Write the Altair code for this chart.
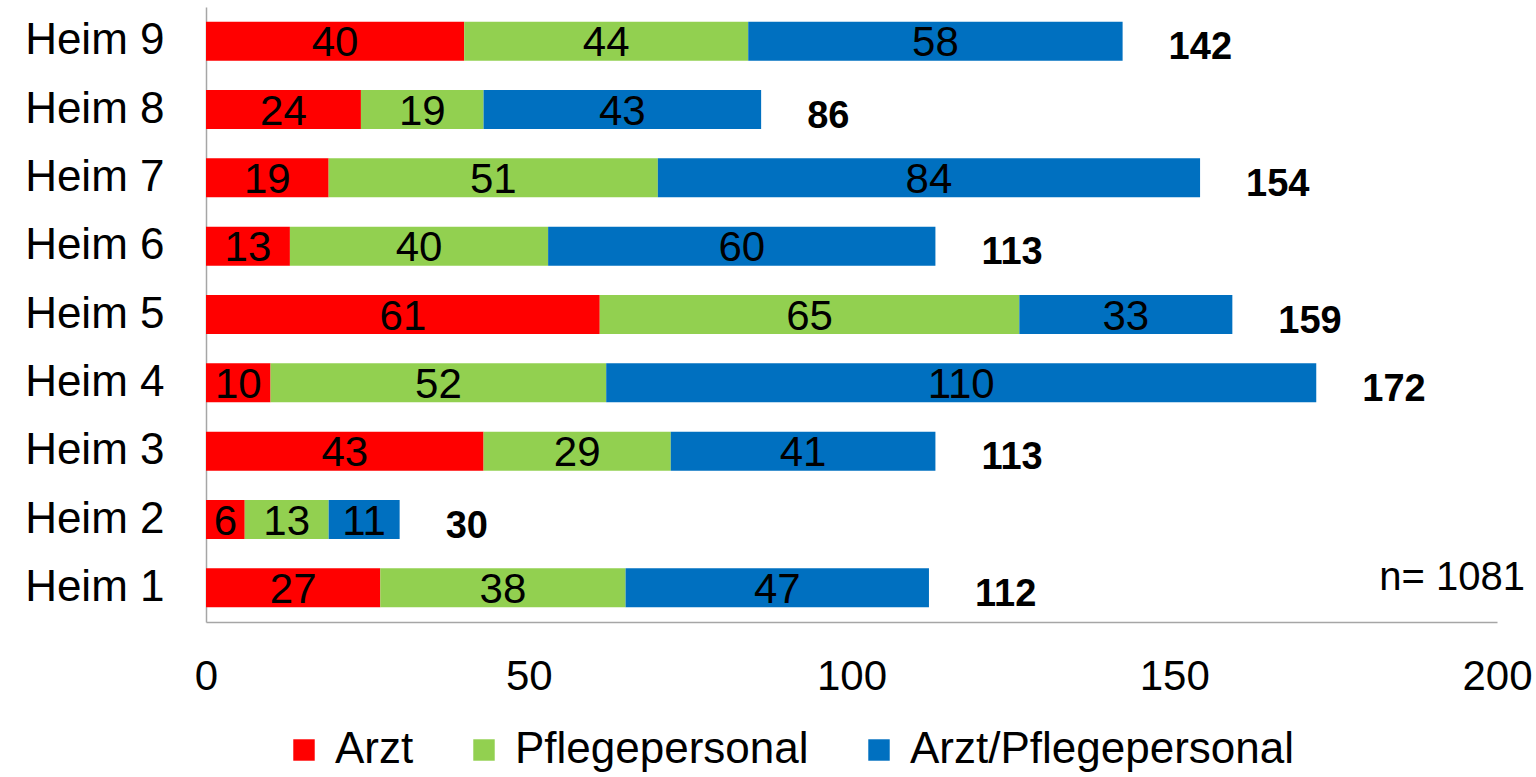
import altair as alt
import pandas as pd

# Categories (top to bottom) and counts per group
heime = ["Heim 9", "Heim 8", "Heim 7", "Heim 6", "Heim 5", "Heim 4", "Heim 3", "Heim 2", "Heim 1"]
arzt = [40, 24, 19, 13, 61, 10, 43, 6, 27]
pflege = [44, 19, 51, 40, 65, 52, 29, 13, 38]
beide = [58, 43, 84, 60, 33, 110, 41, 11, 47]

gruppen = ["Arzt", "Pflegepersonal", "Arzt/Pflegepersonal"]
farben = ["#FF0000", "#92D050", "#0070C0"]
x_ticks = [0, 50, 100, 150, 200]
n_text = "n= 1081"

rows = []
for i, h in enumerate(heime):
    for k, (g, vals) in enumerate(zip(gruppen, [arzt, pflege, beide])):
        rows.append({"heim": h, "gruppe": g, "wert": vals[i], "ordnung": k})
df = pd.DataFrame(rows)

totals = pd.DataFrame({
    "heim": heime,
    "summe": [a + p + b for a, p, b in zip(arzt, pflege, beide)],
})

FONT = "Liberation Sans"

y_enc = alt.Y(
    "heim:N",
    sort=heime,
    title=None,
    scale=alt.Scale(paddingInner=0.43, paddingOuter=0.215),
    axis=alt.Axis(
        labelFont=FONT, labelFontSize=44, labelColor="black",
        ticks=False, domainColor="#A6A6A6", domainWidth=1.5,
        labelPadding=42,
    ),
)

x_scale = alt.Scale(domain=[0, 200], nice=False)

bars = alt.Chart(df).mark_bar().encode(
    y=y_enc,
    x=alt.X(
        "wert:Q",
        stack="zero",
        scale=x_scale,
        title=None,
        axis=alt.Axis(
            values=x_ticks, grid=False, ticks=False,
            labelFont=FONT, labelFontSize=42, labelColor="black",
            domainColor="#A6A6A6", domainWidth=1.5, labelPadding=34,
            labelFlush=False,
        ),
    ),
    color=alt.Color(
        "gruppe:N",
        scale=alt.Scale(domain=gruppen, range=farben),
        sort=gruppen,
        legend=alt.Legend(
            title=None, orient="none", direction="horizontal",
            legendX=76, legendY=721,
            symbolType="square", symbolSize=460, symbolStrokeWidth=0,
            labelFont=FONT, labelFontSize=44, labelColor="black",
            labelOffset=9, columnPadding=48, labelLimit=600,
        ),
    ),
    order=alt.Order("ordnung:Q"),
)

seg_labels = alt.Chart(df).mark_text(
    font=FONT, fontSize=42, color="black", baseline="middle", dy=2,
).transform_stack(
    stack="wert", groupby=["heim"], as_=["x0", "x1"],
    sort=[alt.SortField("ordnung", order="ascending")],
).transform_calculate(
    mitte="(datum.x0 + datum.x1) / 2"
).encode(
    y=alt.Y("heim:N", sort=heime),
    x=alt.X("mitte:Q", scale=x_scale),
    text="wert:Q",
)

total_labels = alt.Chart(totals).mark_text(
    font=FONT, fontSize=38, fontWeight="bold", color="black",
    align="left", baseline="middle", dx=46, dy=7,
).encode(
    y=alt.Y("heim:N", sort=heime),
    x=alt.X("summe:Q", scale=x_scale),
    text="summe:Q",
)

n_label = alt.Chart(pd.DataFrame({"t": [n_text]})).mark_text(
    font=FONT, fontSize=40, color="black", align="right", baseline="middle",
).encode(
    x=alt.value(1319),
    y=alt.value(571),
    text="t:N",
)

chart = alt.layer(bars, seg_labels, total_labels, n_label).properties(
    width=1291,
    height=615,
    background="white",
    autosize=alt.AutoSizeParams(type="none"),
    padding={"left": 206, "top": 7, "right": 39, "bottom": 155},
).configure_view(stroke=None, strokeWidth=0)

chart.save("out.html", embed_options={"renderer": "svg", "actions": False})
